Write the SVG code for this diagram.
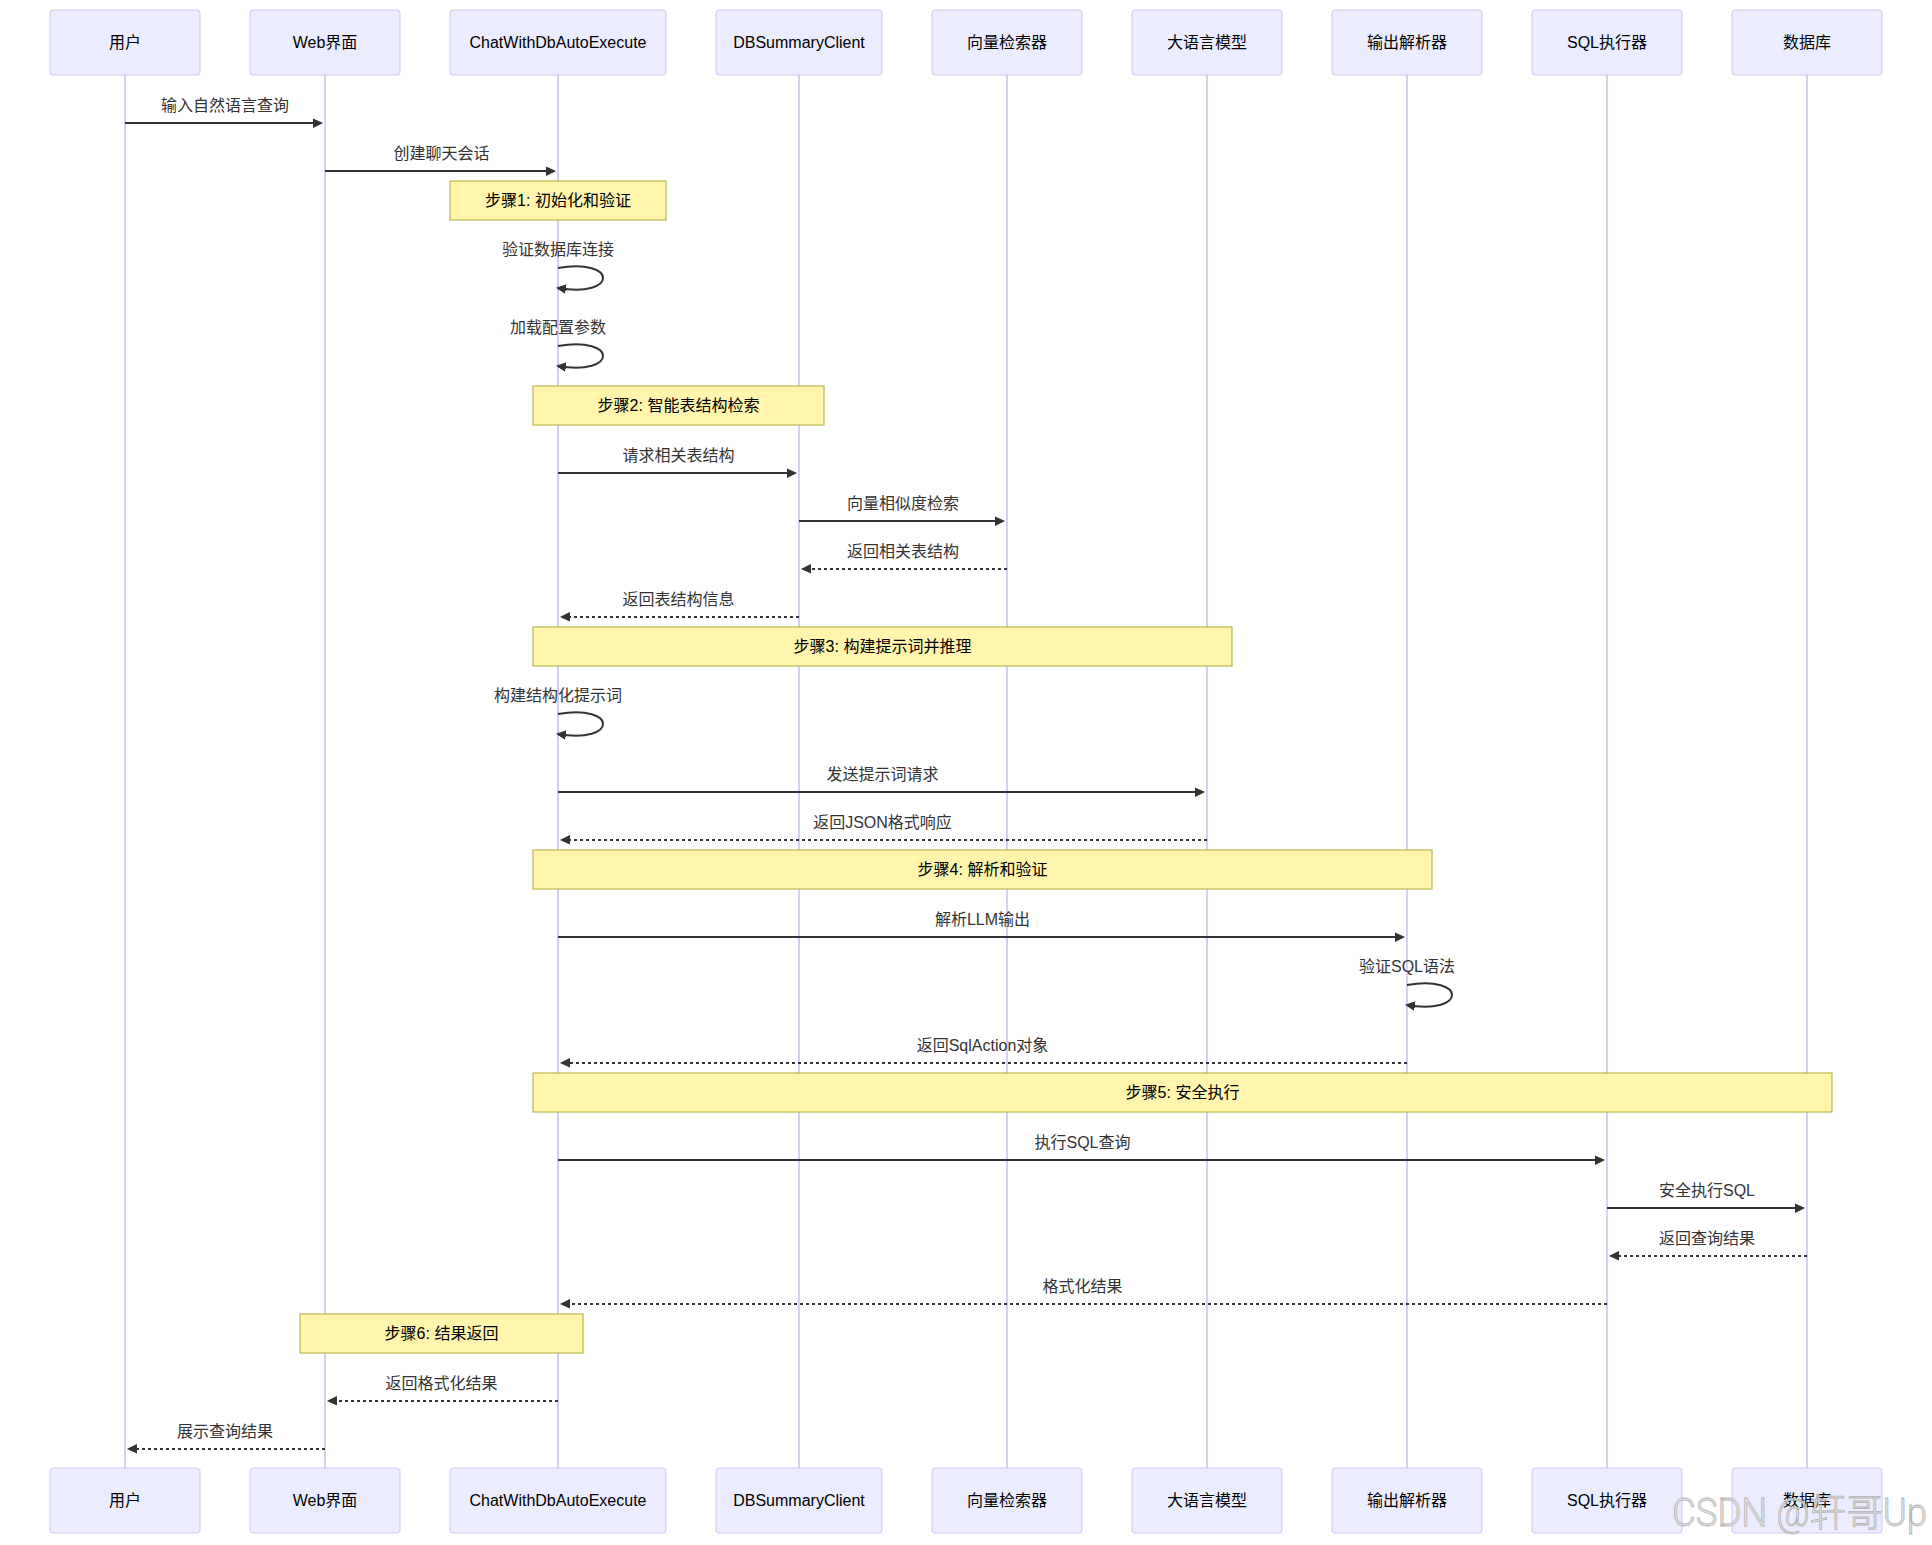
<svg xmlns="http://www.w3.org/2000/svg" width="1932" height="1545" viewBox="0 0 1932 1545">
<style>
  .actor rect { fill: #ECECFF; stroke: #d3c8f2; stroke-width: 1; }
  .actor text, .note text { font-family: "Liberation Sans", "Noto Sans CJK SC", sans-serif; font-size: 16px; fill: #000; text-anchor: middle; dominant-baseline: central; }
  .lifeline { stroke: #d9cdf2; stroke-width: 2; }
  .note rect { fill: #fff5ad; stroke: #aaaa33; stroke-width: 1; }
  .msg { stroke: #333; stroke-width: 2; fill: none; marker-end: url(#arrowhead); }
  .dashed { stroke-dasharray: 3, 3; }
  .label { font-family: "Liberation Sans", "Noto Sans CJK SC", sans-serif; font-size: 16px; fill: #333; text-anchor: middle; dominant-baseline: central; }
  .wm { font-family: Roboto, "Liberation Sans", "Noto Sans CJK SC", sans-serif; font-weight: 300; font-size: 38px; fill: #e2e2e2; fill-opacity: 0.85; stroke: #b4b4b4; stroke-width: 0.8; }
</style>
<defs>
  <marker id="arrowhead" refX="7.9" refY="5" markerUnits="userSpaceOnUse" markerWidth="12" markerHeight="12" orient="auto">
    <path d="M -1 0 L 10 5 L 0 10 z" fill="#333"/>
  </marker>
</defs>
<rect width="1932" height="1545" fill="#fff"/>

<g id="lifelines">
  <line class="lifeline" x1="125" y1="75" x2="125" y2="1468"/>
  <line class="lifeline" x1="325" y1="75" x2="325" y2="1468"/>
  <line class="lifeline" x1="558" y1="75" x2="558" y2="1468"/>
  <line class="lifeline" x1="799" y1="75" x2="799" y2="1468"/>
  <line class="lifeline" x1="1007" y1="75" x2="1007" y2="1468"/>
  <line class="lifeline" x1="1207" y1="75" x2="1207" y2="1468"/>
  <line class="lifeline" x1="1407" y1="75" x2="1407" y2="1468"/>
  <line class="lifeline" x1="1607" y1="75" x2="1607" y2="1468"/>
  <line class="lifeline" x1="1807" y1="75" x2="1807" y2="1468"/>
</g>

<g id="actor-user" class="actor">
  <rect x="50" y="10" width="150" height="65" rx="3"/><text x="125" y="42.5">用户</text>
  <rect x="50" y="1468" width="150" height="65" rx="3"/><text x="125" y="1500.5">用户</text>
</g>
<g id="actor-web" class="actor">
  <rect x="250" y="10" width="150" height="65" rx="3"/><text x="325" y="42.5">Web界面</text>
  <rect x="250" y="1468" width="150" height="65" rx="3"/><text x="325" y="1500.5">Web界面</text>
</g>
<g id="actor-chat" class="actor">
  <rect x="450" y="10" width="216" height="65" rx="3"/><text x="558" y="42.5">ChatWithDbAutoExecute</text>
  <rect x="450" y="1468" width="216" height="65" rx="3"/><text x="558" y="1500.5">ChatWithDbAutoExecute</text>
</g>
<g id="actor-dbs" class="actor">
  <rect x="716" y="10" width="166" height="65" rx="3"/><text x="799" y="42.5">DBSummaryClient</text>
  <rect x="716" y="1468" width="166" height="65" rx="3"/><text x="799" y="1500.5">DBSummaryClient</text>
</g>
<g id="actor-vector" class="actor">
  <rect x="932" y="10" width="150" height="65" rx="3"/><text x="1007" y="42.5">向量检索器</text>
  <rect x="932" y="1468" width="150" height="65" rx="3"/><text x="1007" y="1500.5">向量检索器</text>
</g>
<g id="actor-llm" class="actor">
  <rect x="1132" y="10" width="150" height="65" rx="3"/><text x="1207" y="42.5">大语言模型</text>
  <rect x="1132" y="1468" width="150" height="65" rx="3"/><text x="1207" y="1500.5">大语言模型</text>
</g>
<g id="actor-parser" class="actor">
  <rect x="1332" y="10" width="150" height="65" rx="3"/><text x="1407" y="42.5">输出解析器</text>
  <rect x="1332" y="1468" width="150" height="65" rx="3"/><text x="1407" y="1500.5">输出解析器</text>
</g>
<g id="actor-sql" class="actor">
  <rect x="1532" y="10" width="150" height="65" rx="3"/><text x="1607" y="42.5">SQL执行器</text>
  <rect x="1532" y="1468" width="150" height="65" rx="3"/><text x="1607" y="1500.5">SQL执行器</text>
</g>
<g id="actor-db" class="actor">
  <rect x="1732" y="10" width="150" height="65" rx="3"/><text x="1807" y="42.5">数据库</text>
  <rect x="1732" y="1468" width="150" height="65" rx="3"/><text x="1807" y="1500.5">数据库</text>
</g>

<g id="note1" class="note"><rect x="450" y="181" width="216" height="39"/><text x="558" y="200.5">步骤1: 初始化和验证</text></g>
<g id="note2" class="note"><rect x="533" y="386" width="291" height="39"/><text x="678.5" y="405.5">步骤2: 智能表结构检索</text></g>
<g id="note3" class="note"><rect x="533" y="627" width="699" height="39"/><text x="882.5" y="646.5">步骤3: 构建提示词并推理</text></g>
<g id="note4" class="note"><rect x="533" y="850" width="899" height="39"/><text x="982.5" y="869.5">步骤4: 解析和验证</text></g>
<g id="note5" class="note"><rect x="533" y="1073" width="1299" height="39"/><text x="1182.5" y="1092.5">步骤5: 安全执行</text></g>
<g id="note6" class="note"><rect x="300" y="1314" width="283" height="39"/><text x="441.5" y="1333.5">步骤6: 结果返回</text></g>

<g id="connectors">
  <line class="msg" x1="125" y1="123" x2="321" y2="123"/>
  <text class="label" x="225" y="105">输入自然语言查询</text>
  <line class="msg" x1="325" y1="171" x2="554" y2="171"/>
  <text class="label" x="441.5" y="153">创建聊天会话</text>

  <path class="msg" d="M 558,268 C 618,258 618,298 558,288"/>
  <text class="label" x="558" y="249">验证数据库连接</text>
  <path class="msg" d="M 558,346 C 618,336 618,376 558,366"/>
  <text class="label" x="558" y="327">加载配置参数</text>

  <line class="msg" x1="558" y1="473" x2="795" y2="473"/>
  <text class="label" x="678.5" y="455">请求相关表结构</text>
  <line class="msg" x1="799" y1="521" x2="1003" y2="521"/>
  <text class="label" x="903" y="503">向量相似度检索</text>
  <line class="msg dashed" x1="1007" y1="569" x2="803" y2="569"/>
  <text class="label" x="903" y="551">返回相关表结构</text>
  <line class="msg dashed" x1="799" y1="617" x2="562" y2="617"/>
  <text class="label" x="678.5" y="599">返回表结构信息</text>

  <path class="msg" d="M 558,714 C 618,704 618,744 558,734"/>
  <text class="label" x="558" y="695">构建结构化提示词</text>

  <line class="msg" x1="558" y1="792" x2="1203" y2="792"/>
  <text class="label" x="882.5" y="774">发送提示词请求</text>
  <line class="msg dashed" x1="1207" y1="840" x2="562" y2="840"/>
  <text class="label" x="882.5" y="822">返回JSON格式响应</text>

  <line class="msg" x1="558" y1="937" x2="1403" y2="937"/>
  <text class="label" x="982.5" y="919">解析LLM输出</text>
  <path class="msg" d="M 1407,985 C 1467,975 1467,1015 1407,1005"/>
  <text class="label" x="1407" y="966">验证SQL语法</text>
  <line class="msg dashed" x1="1407" y1="1063" x2="562" y2="1063"/>
  <text class="label" x="982.5" y="1045">返回SqlAction对象</text>

  <line class="msg" x1="558" y1="1160" x2="1603" y2="1160"/>
  <text class="label" x="1082.5" y="1142">执行SQL查询</text>
  <line class="msg" x1="1607" y1="1208" x2="1803" y2="1208"/>
  <text class="label" x="1707" y="1190">安全执行SQL</text>
  <line class="msg dashed" x1="1807" y1="1256" x2="1611" y2="1256"/>
  <text class="label" x="1707" y="1238">返回查询结果</text>
  <line class="msg dashed" x1="1607" y1="1304" x2="562" y2="1304"/>
  <text class="label" x="1082.5" y="1286">格式化结果</text>

  <line class="msg dashed" x1="558" y1="1401" x2="329" y2="1401"/>
  <text class="label" x="441.5" y="1383">返回格式化结果</text>
  <line class="msg dashed" x1="325" y1="1449" x2="129" y2="1449"/>
  <text class="label" x="225" y="1431">展示查询结果</text>
</g>

<text class="wm" x="1672" y="1526" textLength="255" lengthAdjust="spacingAndGlyphs">CSDN @轩哥Up</text>
</svg>
